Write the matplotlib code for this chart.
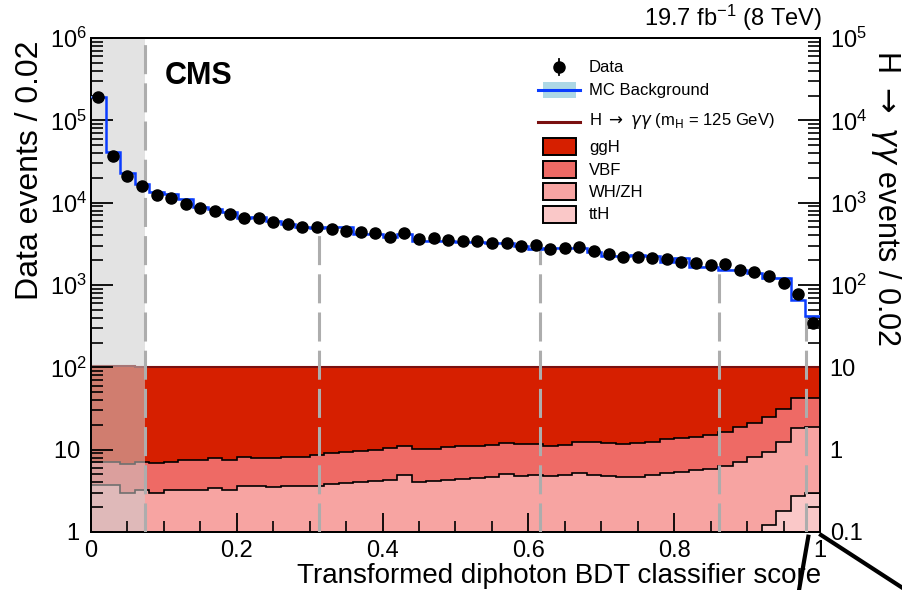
import numpy as np
import matplotlib
matplotlib.use("Agg")
import matplotlib.pyplot as plt
from matplotlib.patches import Rectangle
from matplotlib.lines import Line2D
from matplotlib.ticker import LogLocator, FuncFormatter, MultipleLocator, NullFormatter

plt.rcParams['font.family'] = ['Liberation Sans', 'DejaVu Sans']
plt.rcParams['mathtext.fontset'] = 'custom'
plt.rcParams['mathtext.rm'] = 'Liberation Sans'
plt.rcParams['mathtext.it'] = 'Liberation Sans:italic'
plt.rcParams['mathtext.bf'] = 'Liberation Sans:bold'

# ---------------- data ----------------
bin_width = 0.02
n_bins = 50
bin_edges = np.round(np.arange(n_bins + 1) * bin_width, 4)

data_counts = [1.9e5, 3.7e4, 2.1e4, 1.6e4, 1.23e4, 1.13e4, 9.6e3, 8.5e3, 7.9e3, 7.2e3,
               6.5e3, 6.6e3, 5.8e3, 5.46e3, 5.0e3, 5.0e3, 4.83e3, 4.53e3, 4.37e3, 4.25e3,
               3.83e3, 4.28e3, 3.59e3, 3.69e3, 3.55e3, 3.40e3, 3.40e3, 3.21e3, 3.27e3, 3.0e3,
               3.06e3, 2.74e3, 2.81e3, 2.87e3, 2.57e3, 2.40e3, 2.19e3, 2.2e3, 2.11e3, 2.05e3,
               1.89e3, 1.87e3, 1.75e3, 1.80e3, 1.54e3, 1.45e3, 1.30e3, 1.05e3, 7.8e2, 3.5e2]

mc_background = [1.9e5, 4.1e4, 2.3e4, 1.7e4, 1.34e4, 1.27e4, 1.11e4, 8.9e3, 8.3e3, 7.6e3,
                 6.6e3, 6.7e3, 6.0e3, 5.5e3, 5.0e3, 4.9e3, 5.1e3, 5.1e3, 4.2e3, 4.2e3,
                 3.86e3, 4.17e3, 3.42e3, 3.42e3, 3.42e3, 3.3e3, 3.3e3, 3.25e3, 3.25e3, 3.0e3,
                 2.7e3, 2.8e3, 2.8e3, 2.8e3, 2.55e3, 2.25e3, 2.25e3, 2.3e3, 2.25e3, 1.9e3,
                 2.15e3, 1.67e3, 1.67e3, 1.53e3, 1.53e3, 1.38e3, 1.2e3, 1.2e3, 6.6e2, 4.2e2]

# Higgs signal per process (H -> gg events / 0.02, right axis)
sig_tth = [0.01, 0.01, 0.01, 0.01, 0.01, 0.01, 0.01, 0.01, 0.01, 0.01,
           0.01, 0.01, 0.01, 0.01, 0.01, 0.01, 0.01, 0.01, 0.02, 0.02,
           0.02, 0.02, 0.02, 0.02, 0.02, 0.02, 0.02, 0.02, 0.02, 0.03,
           0.03, 0.03, 0.03, 0.03, 0.03, 0.03, 0.04, 0.04, 0.04, 0.05,
           0.05, 0.06, 0.06, 0.07, 0.08, 0.10, 0.12, 0.18, 0.27, 0.30]
sig_whzh = [0.36, 0.36, 0.29, 0.31, 0.29, 0.31, 0.31, 0.31, 0.33, 0.31,
            0.355, 0.355, 0.345, 0.35, 0.355, 0.355, 0.37, 0.38, 0.38, 0.40,
            0.41, 0.47, 0.38, 0.40, 0.41, 0.42, 0.43, 0.44, 0.48, 0.45,
            0.46, 0.45, 0.46, 0.49, 0.46, 0.45, 0.43, 0.43, 0.45, 0.47,
            0.48, 0.50, 0.53, 0.56, 0.62, 0.71, 0.83, 1.07, 1.55, 1.59]
sig_vbf = [0.34, 0.34, 0.37, 0.38, 0.39, 0.39, 0.43, 0.43, 0.45, 0.43,
           0.455, 0.435, 0.445, 0.45, 0.457, 0.495, 0.52, 0.555, 0.563, 0.574,
           0.612, 0.618, 0.61, 0.61, 0.642, 0.654, 0.671, 0.693, 0.69, 0.70,
           0.68, 0.63, 0.66, 0.733, 0.76, 0.71, 0.70, 0.72, 0.76, 0.823,
           0.84, 0.885, 0.92, 1.02, 1.175, 1.28, 1.525, 1.87, 2.38, 2.31]
sig_ggh = [9.6, 9.6, 9.6, 9.4, 9.35, 9.34, 9.3, 9.3, 9.26, 9.3,
           9.23, 9.25, 9.25, 9.24, 9.23, 9.19, 9.15, 9.1, 9.09, 9.06,
           9.16, 9.0, 9.04, 9.02, 8.98, 8.96, 8.93, 8.9, 8.86, 8.87,
           8.88, 8.94, 8.9, 8.8, 8.8, 8.86, 8.88, 8.86, 8.8, 8.71,
           8.68, 8.61, 8.54, 8.4, 8.18, 7.96, 7.58, 6.93, 5.85, 5.85]

signal_labels = ['ttH', 'WH/ZH', 'VBF', 'ggH']
signal_colors = ['#fac8c8', '#f7a4a2', '#ee6a65', '#d61f00']

category_bounds = [0.074, 0.313, 0.616, 0.861, 0.981]
excluded_max = 0.074

# ---------------- figure ----------------
W, H = 903, 590
fig = plt.figure(figsize=(W / 100, H / 100), dpi=100)
fx = lambda px: px / W
fy = lambda py: 1 - py / H

ax = fig.add_axes([fx(91), fy(532), (820 - 91) / W, (532 - 38) / H])
ax2 = ax.twinx()
ax.set_zorder(ax2.get_zorder() + 1)
ax.patch.set_visible(False)

ax.set_xlim(0, 1)
ax.set_yscale('log')
ax.set_ylim(1, 1e6)
ax2.set_yscale('log')
ax2.set_ylim(0.1, 1e5)

# signal stack on right axis
stack = np.array([sig_tth, sig_whzh, sig_vbf, sig_ggh])
cum = np.cumsum(stack, axis=0)
floor = np.full(n_bins, 1e-3)
for i in range(4):
    lower = floor if i == 0 else cum[i - 1]
    ax2.stairs(cum[i], bin_edges, baseline=lower, fill=True,
               color=signal_colors[i], lw=0, zorder=1 + i)
for i in range(3):
    ax2.stairs(cum[i], bin_edges, baseline=None, color='black', lw=1.2, zorder=6)
ax2.stairs(cum[3], bin_edges, baseline=None, color='#7a1010', lw=1.5, zorder=6)

# excluded region overlay
ax.axvspan(0, excluded_max, color=(0.8, 0.8, 0.8), alpha=0.55, lw=0, zorder=1)

# category boundaries
mc_arr = np.array(mc_background)
for b in category_bounds:
    top = 1e6 if b == excluded_max else mc_arr[min(int(b / bin_width), n_bins - 1)]
    ax.plot([b, b], [1, top], color='#adadad', lw=2.2, dashes=(9.5, 3.0),
            zorder=3, solid_capstyle='butt', dash_capstyle='butt')

# MC background
ax.stairs(mc_arr * 1.03, bin_edges, baseline=mc_arr * 0.97, fill=True,
          color='#add8e6', lw=0, zorder=5)
ax.stairs(mc_arr, bin_edges, baseline=None, color='#0a3cff', lw=1.8, zorder=6)

# data
centers = 0.5 * (bin_edges[:-1] + bin_edges[1:])
dc = np.array(data_counts)
ax.errorbar(centers, dc, yerr=np.sqrt(dc), fmt='o', color='black', ms=8,
            elinewidth=1.2, capsize=0, zorder=10)

# ---------------- axes styling ----------------
for a in (ax, ax2):
    for s in a.spines.values():
        s.set_linewidth(1.4)


def left_fmt(v, pos):
    e = int(round(np.log10(v)))
    if e == 0:
        return '1 '
    if e == 1:
        return '10 '
    return r'$10^{%d}$' % e


def right_fmt(v, pos):
    e = int(round(np.log10(v)))
    if e == -1:
        return '0.1'
    if e == 0:
        return '1'
    if e == 1:
        return '10'
    return r'$10^{%d}$' % e


ax.yaxis.set_major_locator(LogLocator(base=10, numticks=20))
ax.yaxis.set_minor_locator(LogLocator(base=10, subs=np.arange(2, 10), numticks=20))
ax.yaxis.set_major_formatter(FuncFormatter(left_fmt))
ax.yaxis.set_minor_formatter(NullFormatter())
ax2.yaxis.set_major_locator(LogLocator(base=10, numticks=20))
ax2.yaxis.set_minor_locator(LogLocator(base=10, subs=np.arange(2, 10), numticks=20))
ax2.yaxis.set_major_formatter(FuncFormatter(right_fmt))
ax2.yaxis.set_minor_formatter(NullFormatter())

ax.xaxis.set_major_locator(MultipleLocator(0.2))
ax.xaxis.set_minor_locator(MultipleLocator(0.05))
ax.xaxis.set_major_formatter(FuncFormatter(lambda v, p: '0' if abs(v) < 1e-9 else ('1' if abs(v - 1) < 1e-9 else '%.1f' % v)))

ax.tick_params(axis='x', which='both', direction='in', top=False, bottom=True,
               labelsize=17, pad=6)
ax.tick_params(axis='x', which='major', length=14, width=1.3)
ax.tick_params(axis='x', which='minor', length=8, width=1.2)
ax.tick_params(axis='y', which='both', direction='in', left=True, right=False,
               labelsize=17, pad=3)
ax.tick_params(axis='y', which='major', length=16, width=1.3)
ax.tick_params(axis='y', which='minor', length=8.5, width=1.2)
ax2.tick_params(axis='y', which='both', direction='in', left=False, right=True,
                labelsize=17, pad=7)
ax2.tick_params(axis='y', which='major', length=16, width=1.3)
ax2.tick_params(axis='y', which='minor', length=8.5, width=1.2)

# ---------------- texts ----------------
fig.text(fx(30), fy(40), 'Data events / 0.02', rotation=90, ha='center', va='top', fontsize=23)
fig.text(fx(886), fy(50), r'H $\rightarrow$ $\gamma\gamma$ events / 0.02', rotation=270,
         ha='center', va='top', fontsize=22, math_fontfamily='dejavusans')
fig.text(fx(821), fy(583), 'Transformed diphoton BDT classifier score', ha='right',
         va='baseline', fontsize=20)
fig.text(fx(822), fy(18), r'19.7 fb$^{-1}$ (8 TeV)', ha='right', va='center', fontsize=17)
fig.text(fx(165), fy(76), 'CMS', ha='left', va='center', fontsize=22, weight='bold')

# ---------------- legend (manual) ----------------
leg_fs = 12
tx = fx(589)
# Data
fig.add_artist(Line2D([fx(559), fx(559)], [fy(59), fy(75)], color='black', lw=1.3,
                      transform=fig.transFigure))
fig.add_artist(Line2D([fx(559)], [fy(67)], marker='o', ms=8, color='black',
                      transform=fig.transFigure))
fig.text(tx, fy(67), 'Data', ha='left', va='center', fontsize=leg_fs)
# MC background
fig.add_artist(Rectangle((fx(543), fy(98)), fx(576) - fx(543), fy(82) - fy(98),
                         facecolor='#add8e6', edgecolor='none', transform=fig.transFigure))
fig.add_artist(Line2D([fx(538), fx(580)], [fy(90), fy(90)], color='#0a3cff', lw=2.2,
                      transform=fig.transFigure))
fig.text(tx, fy(90), 'MC Background', ha='left', va='center', fontsize=leg_fs)
# H -> gg
fig.add_artist(Line2D([fx(538), fx(580)], [fy(122), fy(122)], color='#7a1010', lw=2.2,
                      transform=fig.transFigure))
fig.text(tx, fy(121), r'H $\rightarrow$ $\gamma\gamma$ (m$_{\mathrm{H}}$ = 125 GeV)',
         ha='left', va='center', fontsize=leg_fs, math_fontfamily='dejavusans')
# signal processes
leg_rows = [('ggH', 3, 146.5), ('VBF', 2, 169.5), ('WH/ZH', 1, 191.5), ('ttH', 0, 214)]
for lab, idx, yc in leg_rows:
    fig.add_artist(Rectangle((fx(543), fy(yc + 8.5)), fx(576) - fx(543), 17 / H,
                             facecolor=signal_colors[idx], edgecolor='black', lw=1.4,
                             transform=fig.transFigure))
    fig.text(tx, fy(yc + 1), signal_labels[idx], ha='left', va='center', fontsize=leg_fs)

# zoom indicator lines
fig.add_artist(Line2D([fx(821), fx(915)], [fy(535), fy(596)], color='black', lw=3,
                      transform=fig.transFigure, zorder=20))
fig.add_artist(Line2D([fx(808.3), fx(798)], [fy(536.7), fy(596)], color='black', lw=3,
                      transform=fig.transFigure, zorder=20))

fig.savefig('out.png', dpi=100)
